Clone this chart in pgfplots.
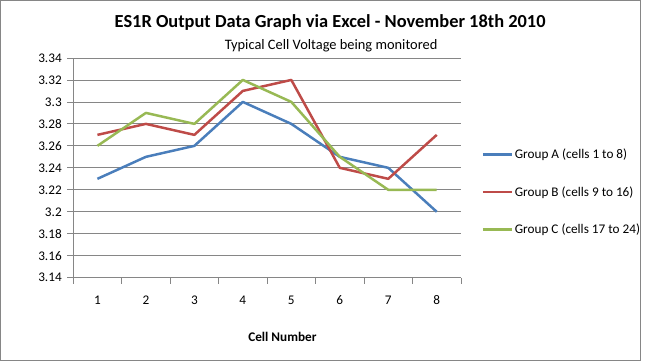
\documentclass[border=0pt]{standalone}
\usepackage{pgfplots}
\pgfplotsset{compat=1.18}
\usepackage{fontspec}
\setmainfont{Carlito}
\definecolor{ca}{RGB}{74,126,187}
\definecolor{cb}{RGB}{190,75,72}
\definecolor{cc}{RGB}{152,185,84}
\definecolor{gr}{RGB}{134,134,134}
\begin{document}
\begin{tikzpicture}
\draw[gr, line width=1pt] (0.5pt,0.5pt) rectangle (644.5pt,362.5pt);
\node[font=\bfseries\fontsize{18.5}{20}\selectfont] at (332pt,340pt) {ES1R Output Data Graph via Excel - November 18th 2010};
\node[font=\fontsize{14.5}{16}\selectfont] at (333pt,317pt) {Typical Cell Voltage being monitored};
\node[font=\bfseries\fontsize{13.3}{15}\selectfont] at (284pt,24pt) {Cell Number};
\begin{axis}[at={(73.6pt,83.7pt)}, anchor=south west, scale only axis,
  width=390pt, height=221pt,
  xmin=0.5, xmax=8.5, ymin=3.14, ymax=3.34,
  axis lines*=left,
  axis line style={gr, line width=0.8pt},
  xtick={1,2,3,4,5,6,7,8},
  minor xtick={0.5,1.5,2.5,3.5,4.5,5.5,6.5,7.5,8.5},
  major x tick style={draw=none},
  minor x tick style={gr, line width=0.8pt},
  minor tick length=6pt,
  ytick={3.14,3.16,3.18,3.2,3.22,3.24,3.26,3.28,3.3,3.32,3.34},
  yticklabels={3.14,3.16,3.18,3.2,3.22,3.24,3.26,3.28,3.3,3.32,3.34},
  xticklabels={1,2,3,4,5,6,7,8},
  y tick style={gr, line width=0.8pt},
  major tick length=6pt,
  tick align=outside,
  ymajorgrids,
  grid style={gr, line width=0.8pt},
  tick label style={font=\fontsize{13.3}{15}\selectfont},
  /pgf/number format/assume math mode=true,
  xticklabel style={yshift=-8.5pt},
  yticklabel style={xshift=-2pt},
  legend style={at={(1.045,0.605)}, anchor=north west, draw=none, fill=none,
    font=\fontsize{13.3}{15}\selectfont, row sep=22.5pt},
  legend cell align=left,
  legend image code/.code={\draw[#1, line width=2.5pt] (0pt,0pt) -- (29pt,0pt);},
  clip=false,
]
\addplot[ca, line width=2.5pt, line join=round] coordinates {(1,3.23)(2,3.25)(3,3.26)(4,3.30)(5,3.28)(6,3.25)(7,3.24)(8,3.20)};
\addlegendentry{Group A (cells 1 to 8)}
\addplot[cb, line width=2.5pt, line join=round] coordinates {(1,3.27)(2,3.28)(3,3.27)(4,3.31)(5,3.32)(6,3.24)(7,3.23)(8,3.27)};
\addlegendentry{Group B (cells 9 to 16)}
\addplot[cc, line width=2.5pt, line join=round] coordinates {(1,3.26)(2,3.29)(3,3.28)(4,3.32)(5,3.30)(6,3.25)(7,3.22)(8,3.22)};
\addlegendentry{Group C (cells 17 to 24)}
\end{axis}
\end{tikzpicture}
\end{document}
